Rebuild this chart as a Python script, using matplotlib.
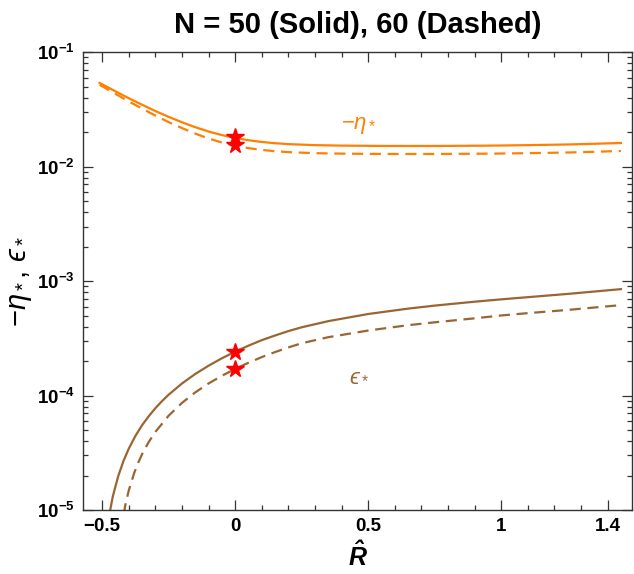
import matplotlib
matplotlib.use('Agg')
import matplotlib.pyplot as plt
import numpy as np

plt.rcParams['font.family'] = ['Liberation Sans', 'DejaVu Sans']
plt.rcParams['mathtext.fontset'] = 'custom'
plt.rcParams['mathtext.rm'] = 'Liberation Sans'
plt.rcParams['mathtext.it'] = 'Liberation Sans:italic'
plt.rcParams['mathtext.bf'] = 'Liberation Sans:bold'
plt.rcParams['mathtext.bfit'] = 'Liberation Sans:italic:bold'
plt.rcParams['mathtext.fallback'] = 'stixsans'

# -eta_* curves
r_eta = [-0.51, -0.45, -0.40, -0.35, -0.30, -0.25, -0.20, -0.15, -0.10, -0.05, 0.0,
         0.05, 0.10, 0.15, 0.20, 0.30, 0.40, 0.50, 0.60, 0.75, 0.90, 1.00, 1.10, 1.25, 1.35, 1.45]
eta_n50 = [0.05395, 0.04550, 0.03963, 0.03475, 0.03062, 0.02723, 0.02443, 0.02213, 0.02028, 0.01888, 0.01782,
           0.01702, 0.01644, 0.01603, 0.01574, 0.01542, 0.01528, 0.01521, 0.01517, 0.01517, 0.01524, 0.01531,
           0.01542, 0.01563, 0.01585, 0.01611]
eta_n60 = [0.05200, 0.04325, 0.03715, 0.03214, 0.02793, 0.02449, 0.02173, 0.01945, 0.01762, 0.01626, 0.01524,
           0.01452, 0.01400, 0.01365, 0.01340, 0.01312, 0.01300, 0.01294, 0.01291, 0.01291, 0.01297, 0.01303,
           0.01312, 0.01330, 0.01349, 0.01371]

# epsilon_* curves
r_eps50 = [-0.49, -0.476, -0.46, -0.44, -0.42, -0.40, -0.375, -0.35, -0.325, -0.30, -0.275, -0.25, -0.20,
           -0.15, -0.10, -0.05, 0.0, 0.05, 0.10, 0.15, 0.20, 0.25, 0.35, 0.50, 0.65, 0.75, 0.90, 1.00,
           1.10, 1.25, 1.45]
eps_n50 = [4.73e-6, 8.43e-6, 1.318e-5, 1.972e-5, 2.685e-5, 3.44e-5, 4.45e-5, 5.51e-5, 6.6e-5, 7.76e-5,
           8.95e-5, 1.019e-4, 1.276e-4, 1.545e-4, 1.824e-4, 2.118e-4, 2.42e-4, 2.73e-4, 3.05e-4, 3.35e-4,
           3.66e-4, 3.95e-4, 4.47e-4, 5.16e-4, 5.75e-4, 6.11e-4, 6.61e-4, 6.93e-4, 7.24e-4, 7.73e-4, 8.51e-4]
r_eps60 = [-0.43, -0.413, -0.40, -0.38, -0.365, -0.35, -0.325, -0.30, -0.25, -0.20, -0.15, -0.10, -0.05,
           0.0, 0.05, 0.10, 0.15, 0.20, 0.25, 0.35, 0.50, 0.65, 0.75, 0.90, 1.00, 1.10, 1.25, 1.45]
eps_n60 = [6.46e-6, 1.107e-5, 1.486e-5, 2.099e-5, 2.58e-5, 3.076e-5, 3.93e-5, 4.82e-5, 6.68e-5, 8.63e-5,
           1.067e-4, 1.276e-4, 1.489e-4, 1.71e-4, 1.936e-4, 2.168e-4, 2.399e-4, 2.636e-4, 2.864e-4,
           3.236e-4, 3.70e-4, 4.12e-4, 4.365e-4, 4.73e-4, 5.01e-4, 5.25e-4, 5.60e-4, 6.17e-4]

# starred points at R = 0
star_r = [0.0, 0.0, 0.0, 0.0]
star_v = [0.0180, 0.0154, 2.42e-4, 1.71e-4]

x_major = [-0.5, 0, 0.5, 1, 1.4]
x_labels = ['\u22120.5', '0', '0.5', '1', '1.4']

orange = '#FF8000'
brown = '#996633'

fig = plt.figure(figsize=(6.34, 5.74), dpi=100)
ax = fig.add_axes([0.131, 0.1115, 0.866, 0.7975])

ax.plot(r_eta, eta_n50, color=orange, lw=1.6)
ax.plot(r_eta, eta_n60, color=orange, lw=1.6, ls=(0, (5, 3)))
ax.plot(r_eps50, eps_n50, color=brown, lw=1.6)
ax.plot(r_eps60, eps_n60, color=brown, lw=1.6, ls=(0, (5, 3)))
ax.plot(star_r, star_v, ls='none', marker='*', ms=13, color='red', mec='red')

ax.set_yscale('log')
ax.set_ylim(1e-5, 1e-1)
ax.set_xlim(-0.572, 1.492)
ax.set_xticks(x_major)
ax.set_xticklabels(x_labels)
ax.set_xticks(np.round(np.arange(-0.5, 1.45, 0.1), 2), minor=True)

ax.tick_params(which='both', direction='in', top=True, right=True, width=0.9, color='#333333')
ax.tick_params(which='major', length=7, labelsize=13.5, pad=6)
ax.tick_params(which='minor', length=3.8)
for lab in ax.get_xticklabels() + ax.get_yticklabels():
    lab.set_fontweight('bold')
for s in ax.spines.values():
    s.set_color('#333333')
    s.set_linewidth(1.0)

ax.text(0.464, 0.0228, r'$-\eta_*$', color=orange, fontsize=16, ha='center', va='center')
ax.text(0.464, 1.5e-4, '$\u03f5_*$', color=brown, fontsize=16, ha='center', va='center')

ax.set_title('N = 50 (Solid), 60 (Dashed)', fontsize=21, fontweight='bold', pad=14)
ax.set_xlabel(r'$\mathbfit{\hat{R}}$', fontsize=18, labelpad=4)
ax.set_ylabel('$-\\eta_*,\\,\u03f5_*$', fontsize=21, labelpad=2)

fig.savefig('out.png', dpi=100)
